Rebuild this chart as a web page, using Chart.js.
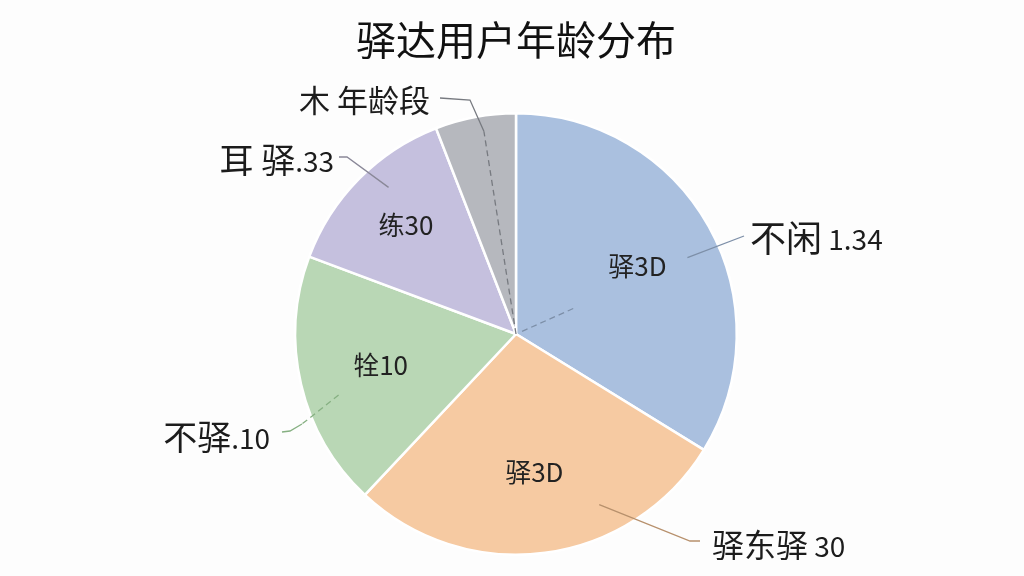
<!DOCTYPE html>
<html>
<head>
<meta charset="utf-8">
<script src="https://cdn.jsdelivr.net/npm/chart.js@4/dist/chart.umd.min.js"></script>
<style>
  html, body { margin: 0; padding: 0; background: #fdfdfd; }
  #wrap { width: 1024px; height: 576px; position: relative; }
</style>
</head>
<body>
<div id="wrap"><canvas id="chartAge"></canvas></div>
<script>
// 数据
const sliceValues = [33.8, 28.2, 18.7, 13.4, 5.9];
const innerLabels = ['驿3D', '驿3D', '牷10', '练30', ''];
const outerNames = ['不闲', '驿东驿', '不驿', '耳 驿', '木 年龄段'];
const outerValues = [' 1.34', ' 30', '.10', '.33', ''];
const sliceColors = ['#aac0df', '#f6caa2', '#b9d7b5', '#c5c0de', '#b6b8be'];
const leaderColors = ['#7d8fa8', '#b7906c', '#86b082', '#8a8898', '#777a80'];

const FONT = '"Noto Sans CJK SC", "Noto Sans", sans-serif';

// 外部标签的位置与引线（像素布局）
const outerLayout = [
  { angle: 66, dash: [0.03, 0.3], from: 0.85, pts: [[744, 236]], x: 750, y: 238, align: 'left', size: 36 },
  { angle: 154, dash: null, from: 0.86, pts: [[690, 541], [700, 541]], x: 712, y: 545, align: 'left', size: 32 },
  { angle: 251, dash: [0.85], dashTo: [302, 424], from: null, pts: [[290, 431], [282, 432]], x: 270, y: 437, align: 'right', size: 34 },
  { angle: 319, dash: null, from: 0.88, pts: [[347, 157], [339, 157]], x: 334, y: 160, align: 'right', size: 34 },
  { angle: 351, dash: [0.0, 0.93], from: 0.93, pts: [[470, 100], [440, 98]], x: 430, y: 100, align: 'right', size: 31 }
];

const labelPlugin = {
  id: 'pieLabels',
  afterDatasetDraw(chart) {
    const ctx = chart.ctx;
    const arcs = chart.getDatasetMeta(0).data;
    ctx.save();
    arcs.forEach((arc, i) => {
      const cx = arc.x, cy = arc.y, r = arc.outerRadius;
      // 扇区内标签
      if (innerLabels[i]) {
        const mid = (arc.startAngle + arc.endAngle) / 2;
        const f = i === 3 ? 0.7 : 0.63;
        const px = cx + Math.cos(mid) * r * f;
        const py = cy + Math.sin(mid) * r * f;
        ctx.font = '26px ' + FONT;
        ctx.fillStyle = '#222';
        ctx.textAlign = 'center';
        ctx.textBaseline = 'middle';
        ctx.fillText(innerLabels[i], px, py);
      }
      // 引线
      const L = outerLayout[i];
      const a = (L.angle - 90) * Math.PI / 180;
      const pt = f => [cx + Math.cos(a) * r * f, cy + Math.sin(a) * r * f];
      ctx.strokeStyle = leaderColors[i];
      ctx.lineWidth = 1.3;
      let dashEnd = null;
      if (L.dash) {
        ctx.setLineDash([6, 4]);
        ctx.beginPath();
        const p0 = pt(L.dash[0]);
        dashEnd = L.dashTo || pt(L.dash[1]);
        ctx.moveTo(p0[0], p0[1]);
        ctx.lineTo(dashEnd[0], dashEnd[1]);
        ctx.stroke();
      }
      ctx.setLineDash([]);
      ctx.beginPath();
      const s = L.from === null ? dashEnd : pt(L.from);
      ctx.moveTo(s[0], s[1]);
      L.pts.forEach(p => ctx.lineTo(p[0], p[1]));
      ctx.stroke();
      // 外部标签
      ctx.fillStyle = '#1c1c1c';
      ctx.textBaseline = 'middle';
      ctx.textAlign = 'left';
      const nameFont = L.size + 'px ' + FONT;
      const valFont = '28px ' + FONT;
      ctx.font = nameFont;
      const wn = ctx.measureText(outerNames[i]).width;
      ctx.font = valFont;
      const wv = ctx.measureText(outerValues[i]).width;
      const x0 = L.align === 'left' ? L.x : L.x - wn - wv;
      ctx.font = nameFont;
      ctx.fillText(outerNames[i], x0, L.y);
      ctx.font = valFont;
      ctx.fillText(outerValues[i], x0 + wn, L.y + 1);
    });
    ctx.restore();
  }
};

new Chart(document.getElementById('chartAge'), {
  type: 'pie',
  data: {
    labels: outerNames,
    datasets: [{
      data: sliceValues,
      backgroundColor: sliceColors,
      borderColor: '#ffffff',
      borderWidth: 2.5
    }]
  },
  options: {
    responsive: true,
    maintainAspectRatio: false,
    animation: false,
    layout: { padding: { left: 8, right: 0, top: 0, bottom: 20 } },
    plugins: {
      legend: { display: false },
      tooltip: { enabled: false },
      title: {
        display: true,
        text: '驿达用户年龄分布',
        color: '#111',
        font: { family: FONT, size: 40, weight: 'normal', lineHeight: 1.2 },
        padding: { top: 16, bottom: 48 }
      }
    }
  },
  plugins: [labelPlugin]
});
</script>
</body>
</html>
